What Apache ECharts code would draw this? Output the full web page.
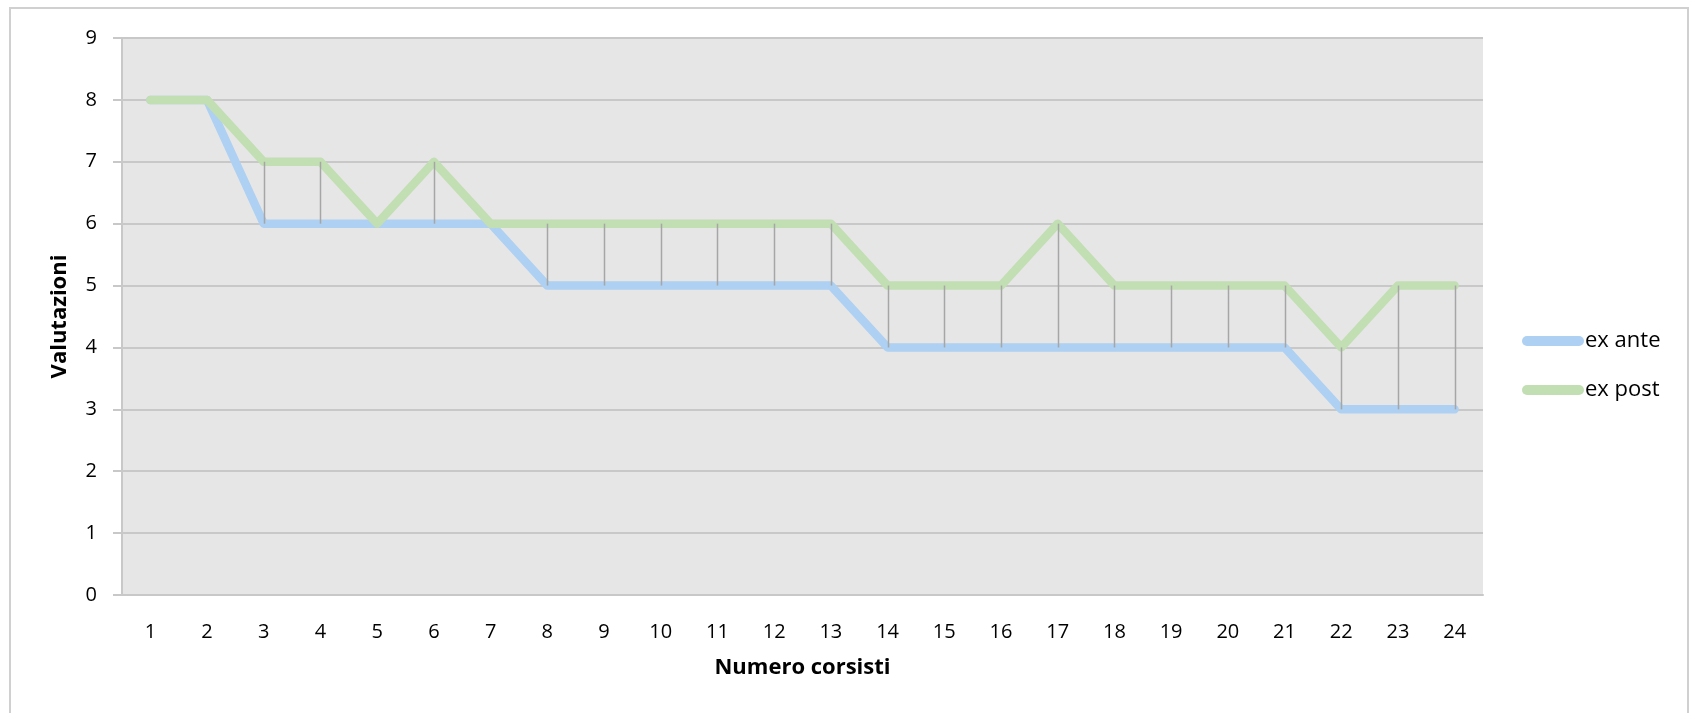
<!DOCTYPE html>
<html><head><meta charset="utf-8">
<script src="https://cdn.jsdelivr.net/npm/echarts@6/dist/echarts.min.js"></script>
<style>html,body{margin:0;padding:0;background:#fff}#c{width:1695px;height:713px}</style>
</head><body><div id="c"></div>
<script>
const categories = ['1','2','3','4','5','6','7','8','9','10','11','12','13','14','15','16','17','18','19','20','21','22','23','24'];
const exAnte = [8,8,6,6,6,6,6,5,5,5,5,5,5,4,4,4,4,4,4,4,4,3,3,3];
const exPost = [8,8,7,7,6,7,6,6,6,6,6,6,6,5,5,5,6,5,5,5,5,4,5,5];
const yTicks = [0,1,2,3,4,5,6,7,8,9];

const font = '"Open Sans", Lato, sans-serif';
const chart = echarts.init(document.getElementById('c'));
chart.setOption({
  animation: false,
  backgroundColor: '#fff',
  textStyle: {fontFamily: font},
  graphic: [{type:'rect', shape:{x:10,y:8,width:1678,height:720}, style:{fill:'none', stroke:'#d0d0d0', lineWidth:2}, silent:true, z:-10}],
  grid: {left:122, top:38, width:1361, height:557, show:true, backgroundColor:'#e6e6e6', borderWidth:0},
  legend: {
    orient:'vertical', left:1517, top:325, itemGap:27, itemWidth:62, itemHeight:10,
    icon:'path://M5,0 L57,0 A5,5 0 0 1 57,10 L5,10 A5,5 0 0 1 5,0 Z',
    textStyle:{fontSize:22, color:'#000', fontFamily:font, padding:[0,0,0,-4]},
    data:['ex ante','ex post']
  },
  xAxis: {
    type:'category', data:categories, boundaryGap:true,
    name:'Numero corsisti', nameLocation:'middle', nameGap:62,
    nameTextStyle:{fontSize:22, fontWeight:'bold', color:'#000'},
    axisLine:{lineStyle:{color:'#c8c8c8', width:2}},
    axisTick:{show:false},
    axisLabel:{fontSize:20, color:'#000', margin:27}
  },
  yAxis: {
    type:'value', min:0, max:9, interval:1,
    name:'Valutazioni', nameLocation:'middle', nameGap:51, nameRotate:90,
    nameTextStyle:{fontSize:22, fontWeight:'bold', color:'#000'},
    axisLine:{show:true, lineStyle:{color:'#c8c8c8', width:2}},
    axisTick:{show:true, length:9, lineStyle:{color:'#c8c8c8', width:2}},
    axisLabel:{fontSize:20, color:'#000', margin:25, formatter: v => yTicks.includes(v) ? String(v) : ''},
    splitLine:{lineStyle:{color:'#c8c8c8', width:2}}
  },
  series: [
    {name:'ex ante', type:'line', data:exAnte, symbol:'none', z:2,
     lineStyle:{color:'#aed0f2', width:8.5, cap:'round', join:'round'}, itemStyle:{color:'#aed0f2'}},
    {name:'ex post', type:'line', data:exPost, symbol:'none', z:3,
     lineStyle:{color:'#c2deb3', width:8.5, cap:'round', join:'round'}, itemStyle:{color:'#c2deb3'}},
    {name:'drop', type:'custom', z:4, silent:true,
     data: categories.map((c,i)=>[i, exAnte[i], exPost[i]]),
     encode:{x:0, y:[1,2]},
     renderItem: (params, api) => {
       const i = api.value(0), a = api.value(1), b = api.value(2);
       if (a === b) return null;
       const p1 = api.coord([i, a]), p2 = api.coord([i, b]);
       const x = Math.round(p1[0]) + 0.5;
       return {type:'line', shape:{x1:x, y1:p1[1], x2:x, y2:p2[1]}, style:{stroke:'#a6a6a6', lineWidth:1.5}};
     }}
  ]
});
</script></body></html>
